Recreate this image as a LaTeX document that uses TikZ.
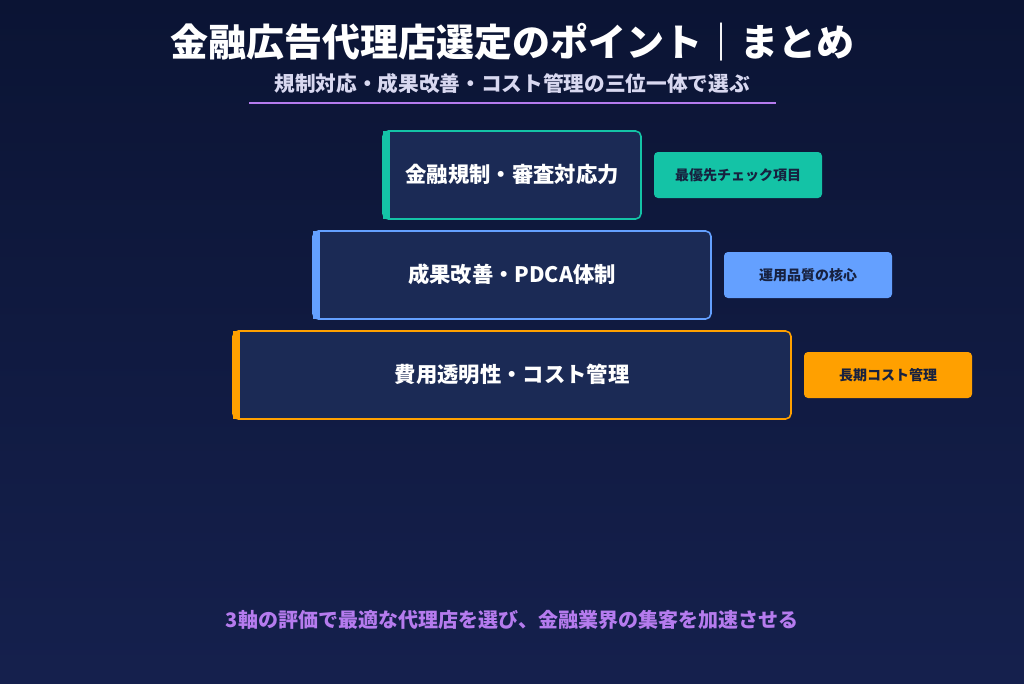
\documentclass[tikz,border=0pt]{standalone}
\usepackage{fontspec}
\setmainfont{Noto Sans CJK JP}
\newfontfamily\cjkb{Noto Sans CJK JP}[FakeBold=0]
\definecolor{bgtop}{HTML}{0B1434}
\definecolor{bgbot}{HTML}{15204D}
\definecolor{boxfill}{HTML}{1B2A55}
\definecolor{teal}{HTML}{14C3A6}
\definecolor{blu}{HTML}{64A0FF}
\definecolor{org}{HTML}{FFA000}
\definecolor{purp}{HTML}{B57BEE}
\definecolor{sub}{HTML}{D8D8F0}
\definecolor{dark}{HTML}{17213F}
\begin{document}
\begin{tikzpicture}[x=0.75pt,y=-0.75pt,
 main/.style={draw=#1,line width=1.2pt,fill=boxfill,rounded corners=4pt},
 lbl/.style={text=white,font=\fontsize{16}{18}\selectfont\bfseries},
 tag/.style={fill=#1,rounded corners=3pt,text=dark,font=\fontsize{10.5}{12}\selectfont\bfseries,minimum width=126pt,minimum height=34.5pt,inner sep=0pt}]
\shade[top color=bgtop,bottom color=bgbot] (0,0) rectangle (1024,683);
\useasboundingbox (0,0) rectangle (1024,683);
\node[text=white,font=\fontsize{28.5}{32}\selectfont\bfseries] (title) at (512,42) {金融広告代理店選定のポイント｜まとめ};
\node[text=sub,font=\fontsize{15.5}{18}\selectfont\bfseries] (subtitle) at (512,84) {規制対応・成果改善・コスト管理の三位一体で選ぶ};
\coordinate (ul1) at (249,103); \coordinate (ul2) at (776,103);
\draw[purp,line width=2pt] (ul1) -- (ul2);
% box 1
\draw[main=teal] (383,131) rectangle (641,219);
\fill[teal] (383,131) rectangle (390,219);
\node[lbl] (b1) at (512,174) {金融規制・審査対応力};
\node[tag=teal] (t1) at (738,175) {最優先チェック項目};
% box 2
\draw[main=blu] (313,231) rectangle (711,319);
\fill[blu] (313,231) rectangle (320,319);
\node[lbl] (b2) at (512,274) {成果改善・PDCA体制};
\node[tag=blu] (t2) at (808,275) {運用品質の核心};
% box 3
\draw[main=org] (233,331) rectangle (791,419);
\fill[org] (233,331) rectangle (240,419);
\node[lbl] (b3) at (512,374) {費用透明性・コスト管理};
\node[tag=org] (t3) at (888,375) {長期コスト管理};
\node[text=purp,font=\fontsize{15}{18}\selectfont\bfseries] (foot) at (512,620) {3軸の評価で最適な代理店を選び、金融業界の集客を加速させる};
\end{tikzpicture}
\end{document}
